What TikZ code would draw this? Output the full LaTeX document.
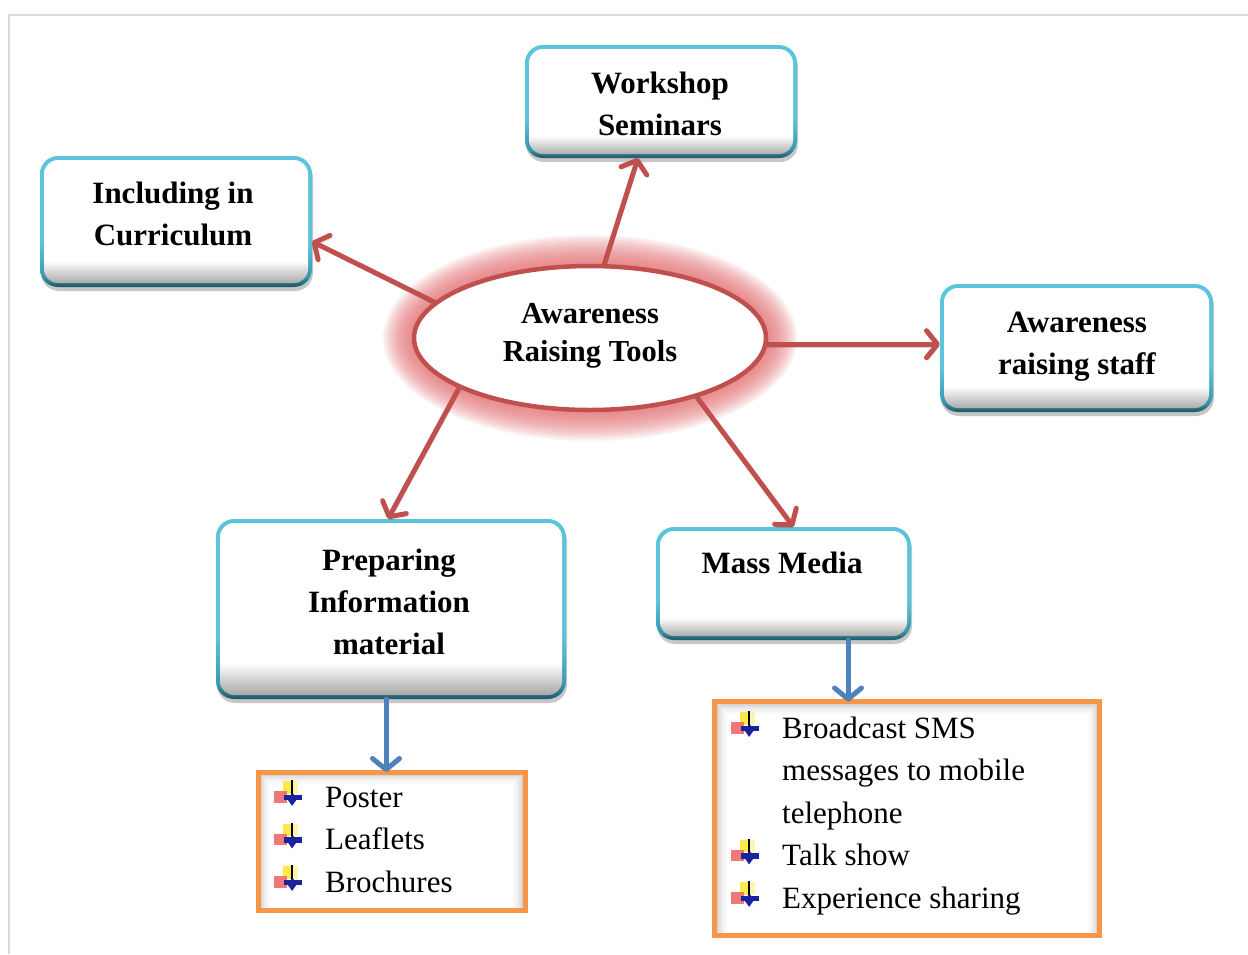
\documentclass[tikz,border=0pt]{standalone}
\usepackage{fontspec}
\setmainfont{Liberation Serif}
\usetikzlibrary{shapes.geometric,arrows.meta}

\definecolor{hubred}{HTML}{C0504D}
\definecolor{glowred}{HTML}{E0676A}
\definecolor{linkblue}{HTML}{4F81BD}
\definecolor{listorange}{HTML}{F79646}
\definecolor{rimlight}{HTML}{5BC3DB}
\definecolor{rimmid}{HTML}{3A98AF}
\definecolor{rimdark}{HTML}{1F5666}
\definecolor{framegray}{HTML}{DADADA}
\definecolor{bevelgray}{HTML}{9C9C9C}
\definecolor{iconyellow}{HTML}{FFE94A}
\definecolor{iconred}{HTML}{F06A6A}
\definecolor{iconblue}{HTML}{1A22A0}

% rim of the topic boxes: dark teal at the bottom, bright cyan above
\pgfdeclareverticalshading{boxrim}{100bp}{color(0bp)=(rimdark); color(25bp)=(rimdark); color(29bp)=(rimmid); color(42bp)=(rimlight); color(100bp)=(rimlight)}
% face of the topic boxes: grey bevel along the bottom edge
\pgfdeclareverticalshading{boxface}{100bp}{color(0bp)=(bevelgray); color(25bp)=(bevelgray); color(35bp)=(white); color(100bp)=(white)}

\tikzset{
  topic/.style={rectangle, rounded corners=18pt, inner sep=0pt, outer sep=0pt,
    shade, shading=boxrim,
    preaction={fill=black, opacity=0.22, transform canvas={xshift=1pt,yshift=-4pt}},
    path picture={\shade[shading=boxface, rounded corners=14pt]
      ([xshift=4pt,yshift=4pt]path picture bounding box.south west) rectangle
      ([xshift=-4pt,yshift=-4pt]path picture bounding box.north east);}},
  hubshape/.style={ellipse, draw=hubred, line width=4.5pt, fill=white,
    minimum width=352pt, minimum height=144pt, inner sep=0pt},
  listbox/.style={rectangle, draw=listorange, line width=5pt, fill=white,
    inner sep=0pt, outer sep=0pt,
    path picture={
      \foreach \k/\o in {3/.16,5/.11,7/.07,9/.04,11/.02}{
        \draw[black, opacity=\o, line width=2pt]
          ([xshift=\k pt]path picture bounding box.south west) --
          ([xshift=\k pt,yshift=-\k pt]path picture bounding box.north west) --
          ([xshift=-\k pt,yshift=-\k pt]path picture bounding box.north east) --
          ([xshift=-\k pt]path picture bounding box.south east);}}},
  spoke/.style={draw=hubred, line width=5pt, line cap=round,
    -{Straight Barb[length=11pt,width=27pt,line width=5pt,round]},
    preaction={draw=black, opacity=.15, transform canvas={xshift=1.5pt,yshift=-3pt}}},
  feed/.style={draw=linkblue, line width=5pt, line cap=round,
    -{Straight Barb[length=11pt,width=27pt,line width=5pt,round]},
    preaction={draw=black, opacity=.14, transform canvas={xshift=1.5pt,yshift=-2.5pt}}},
  boxtext/.style={anchor=north, inner sep=0pt, align=center,
    font=\fontsize{31}{42}\selectfont\bfseries},
  hubtext/.style={anchor=north, inner sep=0pt, align=center,
    font=\fontsize{30.5}{38}\selectfont\bfseries},
  listtext/.style={anchor=north west, inner sep=0pt, align=left,
    font=\fontsize{31}{42.5}\selectfont},
  pics/wingbullet/.style={code={
    \begin{scope}[scale=1.12]
    \fill[iconyellow] (-7,-23) rectangle (1,-12);
    \fill[iconyellow!45] (1,-23) rectangle (6,-12);
    \fill[iconred, opacity=.9] (-15,-14) rectangle (-4,-4);
    \fill[iconblue] (-6,-11) rectangle (10,-6);
    \draw[black, line width=2pt] (1,-24) -- (1,-6);
    \fill[iconblue] (-0.3,-12) rectangle (2.3,-5);
    \fill[iconblue] (-4,-8) -- (6,-8) -- (1,-1) -- cycle;
    \end{scope}}}
}

\newcommand\ls{\strut}

\begin{document}
\begin{tikzpicture}[x=1pt, y=-1pt]
\useasboundingbox (0,0) rectangle (1248,954);

% page frame
\draw[framegray, line width=2.5pt] (9,954) -- (9,15) -- (1248,15);

% soft glow round the central ellipse
\foreach \g in {1,...,16}{
  \pgfmathsetmacro\rx{175+2*\g}
  \pgfmathsetmacro\ry{71+2*\g}
  \fill[glowred, opacity=0.09] (590,338) ellipse [x radius=\rx pt, y radius=\ry pt];
}

% central idea
\node[hubshape] (hub) at (590,338) {};

% topic boxes
\node[topic, minimum width=272pt, minimum height=113pt] (ws)    at (661,101.5) {};
\node[topic, minimum width=272pt, minimum height=131pt] (inc)   at (176,221.5) {};
\node[topic, minimum width=273pt, minimum height=128pt] (staff) at (1076.5,348) {};
\node[topic, minimum width=350pt, minimum height=180pt] (prep)  at (391,609) {};
\node[topic, minimum width=255pt, minimum height=113pt] (mass)  at (783.5,583.5) {};

% spokes from the central idea
\draw[spoke] (hub.79)    -- ([xshift=-23pt]ws.south);
\draw[spoke] (hub.167)   -- ([yshift=-20pt]inc.east);
\draw[spoke] (hub.-2.6)  -- (hub.-2.6 -| staff.west);
\draw[spoke] (hub.201.6) -- ([xshift=-3pt]prep.north);
\draw[spoke] (hub.331)   -- ([xshift=10pt]mass.north);

% detail lists
\node[listbox, minimum width=267pt, minimum height=138pt] (list1) at (391.5,841) {};
\node[listbox, minimum width=385pt, minimum height=234pt] (list2) at (907,818.5) {};

\draw[feed] ([xshift=-5pt]prep.south) -- ([xshift=-5pt]prep.south |- list1.north);
\draw[feed] ([xshift=64.5pt]mass.south) -- ([xshift=64.5pt]mass.south |- list2.north);

% labels
\node[hubtext] (hubLabel) at (590,296.4) {\ls Awareness\\\ls Raising Tools};
\node[boxtext] (wsLabel)    at (660,63.6)   {\ls Workshop\\\ls Seminars};
\node[boxtext] (incLabel)   at (173,173.6)  {\ls Including in\\\ls Curriculum};
\node[boxtext] (staffLabel) at (1077,302.6) {\ls Awareness\\\ls raising staff};
\node[boxtext] (prepLabel)  at (389,540.6)  {\ls Preparing\\\ls Information\\\ls material};
\node[boxtext] (massLabel)  at (782,543.6)  {\ls Mass Media};

\node[listtext] (list1Text) at (325,777.25)
  {\ls Poster\\\ls Leaflets\\\ls Brochures};
\node[listtext] (list2Text) at (782,708.25)
  {\ls Broadcast SMS\\\ls messages to mobile\\\ls telephone\\\ls Talk show\\\ls Experience sharing};

% bullets
\foreach \b in {807,849.5,892} \pic at (291,\b) {wingbullet};
\foreach \b in {738,865.5,908} \pic at (748,\b) {wingbullet};
\end{tikzpicture}
\end{document}
